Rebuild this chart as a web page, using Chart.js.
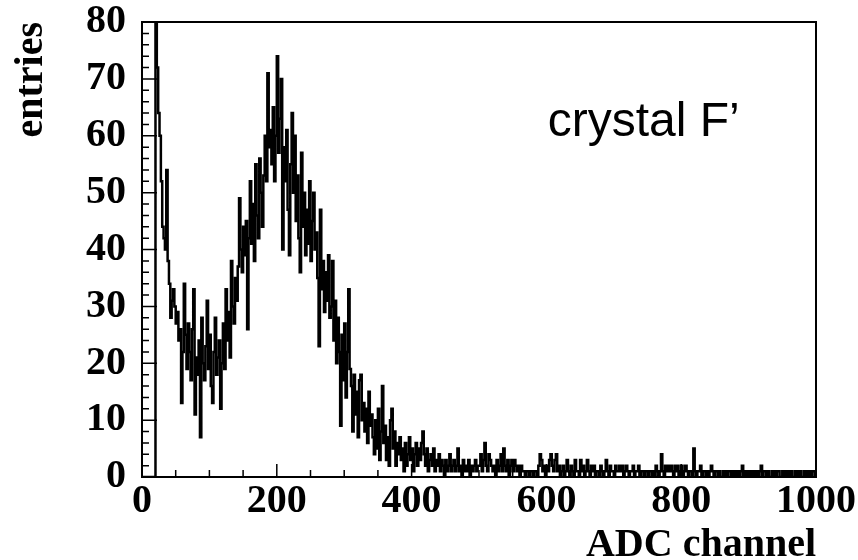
<!DOCTYPE html>
<html>
<head>
<meta charset="utf-8">
<script src="https://cdn.jsdelivr.net/npm/chart.js@4.4.0/dist/chart.umd.min.js"></script>
<style>
	html, body { margin: 0; padding: 0; background: #fff; }
	#wrap { width: 858px; height: 560px; }
</style>
</head>
<body>
<div id="wrap"><canvas id="myChart" width="858" height="560"></canvas></div>
<script>
// ADC spectrum, 2 channels per bin, starting at channel 0
const binWidth = 2;
const counts = [
	0, 0, 0, 0, 0, 0, 0, 0, 0, 0,            // 0
	95, 72, 64, 60, 52, 44, 42, 40, 54, 38,  // 20
	34, 28, 31, 33, 30, 27, 29, 24, 26, 13,  // 40
	22, 34, 25, 19, 27, 22, 17, 26, 33, 11,  // 60
	21, 18, 24, 7, 28, 20, 17, 23, 31, 19,   // 80
	25, 16, 13, 22, 28, 18, 21, 24, 12, 20,  // 100
	27, 19, 33, 24, 29, 21, 38, 30, 27, 35,  // 120
	31, 37, 49, 40, 36, 44, 39, 45, 26, 42,  // 140
	52, 41, 48, 38, 55, 46, 42, 56, 50, 44,  // 160
	53, 60, 52, 71, 58, 61, 55, 65, 52, 60,  // 180
	74, 57, 63, 70, 40, 58, 52, 61, 47, 39,  // 200
	55, 64, 50, 60, 45, 53, 42, 36, 57, 44,  // 220
	50, 39, 47, 41, 52, 38, 45, 50, 40, 43,  // 240
	35, 23, 47, 33, 38, 29, 36, 31, 39, 28,  // 260
	30, 38, 24, 31, 20, 28, 22, 9, 25, 17,   // 280
	27, 14, 22, 33, 19, 16, 8, 18, 11, 15,   // 300
	7, 17, 18, 10, 13, 8, 12, 6, 15, 9,      // 320
	11, 7, 4, 10, 5, 12, 3, 8, 16, 6,        // 340
	9, 3, 7, 2, 10, 12, 5, 8, 2, 6,          // 360
	4, 7, 3, 5, 1, 6, 2, 4, 7, 3,            // 380
	5, 1, 4, 6, 2, 5, 3, 6, 8, 4,            // 400
	2, 5, 1, 3, 4, 2, 5, 1, 3, 2,            // 420
	4, 1, 3, 2, 0, 3, 1, 2, 4, 1,            // 440
	2, 3, 1, 2, 5, 1, 2, 0, 3, 1,            // 460
	2, 1, 3, 0, 2, 1, 2, 3, 1, 2,            // 480
	2, 4, 1, 3, 6, 2, 1, 4, 3, 2,            // 500
	1, 2, 0, 3, 1, 2, 4, 1, 5, 2,            // 520
	1, 3, 0, 2, 3, 1, 3, 2, 1, 2,            // 540
	0, 2, 1, 1, 0, 1, 1, 0, 1, 1,            // 560
	0, 1, 1, 0, 2, 4, 3, 1, 2, 0,            // 580
	2, 1, 3, 4, 2, 1, 3, 4, 1, 2,            // 600
	0, 1, 2, 0, 1, 3, 1, 0, 2, 1,            // 620
	0, 3, 1, 1, 0, 3, 1, 2, 0, 1,            // 640
	3, 1, 0, 2, 1, 2, 0, 1, 1, 0,            // 660
	2, 1, 0, 1, 3, 1, 0, 2, 1, 1,            // 680
	0, 2, 1, 1, 2, 1, 2, 0, 1, 2,            // 700
	1, 0, 1, 1, 2, 0, 1, 1, 2, 0,            // 720
	1, 1, 0, 1, 1, 0, 1, 1, 0, 1,            // 740
	0, 2, 1, 0, 1, 4, 1, 0, 2, 1,            // 760
	2, 1, 2, 1, 0, 2, 1, 2, 0, 1,            // 780
	2, 0, 1, 2, 1, 0, 1, 1, 0, 5,            // 800
	1, 0, 1, 1, 2, 0, 1, 1, 0, 1,            // 820
	0, 1, 2, 1, 0, 1, 1, 0, 1, 0,            // 840
	0, 1, 0, 1, 0, 1, 1, 0, 1, 0,            // 860
	1, 0, 1, 0, 1, 2, 0, 1, 0, 1,            // 880
	1, 0, 1, 0, 1, 0, 1, 0, 1, 2,            // 900
	0, 1, 1, 0, 1, 0, 0, 1, 0, 1,            // 920
	0, 1, 1, 0, 0, 1, 0, 1, 0, 1,            // 940
	0, 1, 0, 0, 1, 0, 1, 0, 1, 0,            // 960
	0, 1, 0, 1, 0, 1, 0, 1, 1, 0             // 980
];

const xTicks = [0, 200, 400, 600, 800, 1000];
const yTicks = [0, 10, 20, 30, 40, 50, 60, 70, 80];
const label = 'crystal F\u2019';

// bin left edges, plus the closing edge of the last bin
const points = counts.map((c, i) => ({ x: i * binWidth, y: c }));
points.push({ x: counts.length * binWidth, y: counts[counts.length - 1] });

// ROOT style frame with inward ticks, plus the text label
const frame = {
	id: 'frame',
	afterDatasetsDraw(chart) {
		const { ctx, chartArea: a, scales: { x, y } } = chart;
		ctx.save();
		ctx.strokeStyle = '#000';
		ctx.lineWidth = 1.5;
		ctx.beginPath();
		for (let v = 0; v <= 1000; v += 50) {
			const px = x.getPixelForValue(v);
			const len = v % 200 === 0 ? 13 : 7;
			ctx.moveTo(px, a.bottom);
			ctx.lineTo(px, a.bottom - len);
		}
		for (let v = 0; v <= 80; v += 2) {
			const py = y.getPixelForValue(v);
			const len = v % 10 === 0 ? 15 : 7;
			ctx.moveTo(a.left, py);
			ctx.lineTo(a.left + len, py);
		}
		ctx.stroke();
		ctx.lineWidth = 2;
		ctx.strokeRect(a.left, a.top, a.right - a.left, a.bottom - a.top);

		ctx.fillStyle = '#000';
		ctx.font = '48px "Liberation Sans"';
		ctx.textAlign = 'left';
		ctx.textBaseline = 'alphabetic';
		ctx.fillText(label, x.getPixelForValue(602), y.getPixelForValue(60));
		ctx.restore();
	}
};

var ctx = document.getElementById('myChart').getContext('2d');
var myChart = new Chart(ctx, {
	type: 'line',
	data: {
		datasets: [
			{
				data: points,
				stepped: true,
				borderColor: '#000',
				borderWidth: 2.5,
				pointRadius: 0,
				fill: false
			}
		]
	},
	options: {
		responsive: false,
		animation: false,
		layout: { padding: { top: 22, right: 42, bottom: 0, left: 0 } },
		plugins: { legend: { display: false }, tooltip: { enabled: false } },
		scales: {
			x: {
				type: 'linear',
				min: 0,
				max: 1000,
				afterBuildTicks: (s) => { s.ticks = xTicks.map(v => ({ value: v })); },
				afterFit: (s) => { s.height = 83; },
				grid: { display: false, drawTicks: false },
				border: { display: false },
				ticks: {
					color: '#000',
					font: { family: 'Liberation Serif', size: 40, weight: 'bold', lineHeight: 1.25 },
					padding: 0,
					maxRotation: 0,
					autoSkip: false,
					callback: (v) => String(v)
				},
				title: {
					display: true,
					text: 'ADC channel',
					align: 'end',
					color: '#000',
					font: { family: 'Liberation Serif', size: 40, weight: 'bold', lineHeight: 0.72 },
					padding: { top: 0, bottom: 0 }
				}
			},
			y: {
				min: 0,
				max: 80,
				afterBuildTicks: (s) => { s.ticks = yTicks.map(v => ({ value: v })); },
				afterFit: (s) => { s.width = 142; },
				grid: { display: false, drawTicks: false },
				border: { display: false },
				ticks: {
					color: '#000',
					font: { family: 'Liberation Serif', size: 40, weight: 'bold', lineHeight: 0.2 },
					padding: 16,
					callback: (v) => String(v)
				},
				title: {
					display: true,
					text: 'entries',
					align: 'end',
					color: '#000',
					font: { family: 'Liberation Serif', size: 40, weight: 'bold', lineHeight: 1 },
					padding: { top: 12, bottom: 0 }
				}
			}
		}
	},
	plugins: [frame]
});
</script>
</body>
</html>
